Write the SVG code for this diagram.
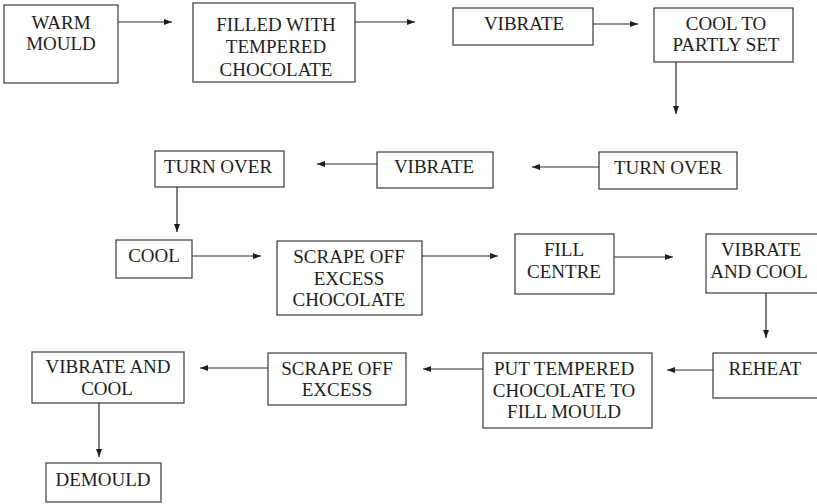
<svg xmlns="http://www.w3.org/2000/svg" width="817" height="504" viewBox="0 0 817 504">
<style>
.box{fill:#fff;stroke:#3a3a3a;stroke-width:1.2}
.edge{stroke:#2a2a2a;stroke-width:1.2;marker-end:url(#ah)}
</style>
<defs>
<marker id="ah" markerWidth="8" markerHeight="6" refX="8" refY="3" orient="auto" markerUnits="userSpaceOnUse">
<path d="M0,0 L8,3 L0,6 Z" fill="#1e1e1e"/>
</marker>
</defs>
<rect x="0" y="0" width="817" height="504" fill="#fff"/>
<g id="nodes" font-family="Liberation Serif" font-size="19" text-anchor="middle" fill="#1e1e1e">
<g id="n1"><rect class="box" x="4" y="5" width="114" height="78"/><text x="61" y="29">WARM</text><text x="61" y="50">MOULD</text></g>
<g id="n2"><rect class="box" x="193" y="3" width="162" height="79"/><text x="276" y="31">FILLED WITH</text><text x="276" y="53">TEMPERED</text><text x="276" y="76">CHOCOLATE</text></g>
<g id="n3"><rect class="box" x="453" y="8" width="140" height="37"/><text x="524" y="30">VIBRATE</text></g>
<g id="n4"><rect class="box" x="654" y="8" width="139" height="54"/><text x="726" y="30">COOL TO</text><text x="726" y="51">PARTLY SET</text></g>
<g id="n5"><rect class="box" x="599" y="152" width="138" height="37"/><text x="668" y="174">TURN OVER</text></g>
<g id="n6"><rect class="box" x="377" y="152" width="116" height="36"/><text x="434" y="173">VIBRATE</text></g>
<g id="n7"><rect class="box" x="155" y="151" width="129" height="36"/><text x="218" y="173">TURN OVER</text></g>
<g id="n8"><rect class="box" x="116" y="240" width="76" height="38"/><text x="154" y="262">COOL</text></g>
<g id="n9"><rect class="box" x="277" y="241" width="145" height="74"/><text x="349" y="263">SCRAPE OFF</text><text x="349" y="285">EXCESS</text><text x="349" y="306">CHOCOLATE</text></g>
<g id="n10"><rect class="box" x="515" y="234" width="99" height="60"/><text x="564" y="256">FILL</text><text x="564" y="278">CENTRE</text></g>
<g id="n11"><rect class="box" x="706" y="234" width="125" height="59"/><text x="761" y="256">VIBRATE</text><text x="759" y="278">AND COOL</text></g>
<g id="n12"><rect class="box" x="713" y="353" width="118" height="45"/><text x="765" y="375">REHEAT</text></g>
<g id="n13"><rect class="box" x="483" y="353" width="169" height="75"/><text x="564" y="375">PUT TEMPERED</text><text x="564" y="397">CHOCOLATE TO</text><text x="564" y="418">FILL MOULD</text></g>
<g id="n14"><rect class="box" x="268" y="353" width="138" height="52"/><text x="337" y="375">SCRAPE OFF</text><text x="337" y="396">EXCESS</text></g>
<g id="n15"><rect class="box" x="32" y="352" width="152" height="51"/><text x="108" y="373">VIBRATE AND</text><text x="107" y="395">COOL</text></g>
<g id="n16"><rect class="box" x="46" y="463" width="115" height="39"/><text x="103" y="486">DEMOULD</text></g>
</g>
<g id="connectors">
<line class="edge" x1="118" y1="22" x2="172" y2="22"/>
<line class="edge" x1="355" y1="22" x2="415" y2="22"/>
<line class="edge" x1="593" y1="24" x2="638" y2="24"/>
<line class="edge" x1="676" y1="62" x2="676" y2="114"/>
<line class="edge" x1="599" y1="167" x2="532" y2="167"/>
<line class="edge" x1="377" y1="164" x2="317" y2="164"/>
<line class="edge" x1="177" y1="187" x2="177" y2="232"/>
<line class="edge" x1="192" y1="256" x2="261" y2="256"/>
<line class="edge" x1="422" y1="256" x2="498" y2="256"/>
<line class="edge" x1="614" y1="257" x2="673" y2="257"/>
<line class="edge" x1="766" y1="293" x2="766" y2="338"/>
<line class="edge" x1="713" y1="370" x2="667" y2="370"/>
<line class="edge" x1="483" y1="369" x2="423" y2="369"/>
<line class="edge" x1="268" y1="368" x2="200" y2="368"/>
<line class="edge" x1="99" y1="403" x2="99" y2="457"/>
</g>
</svg>
